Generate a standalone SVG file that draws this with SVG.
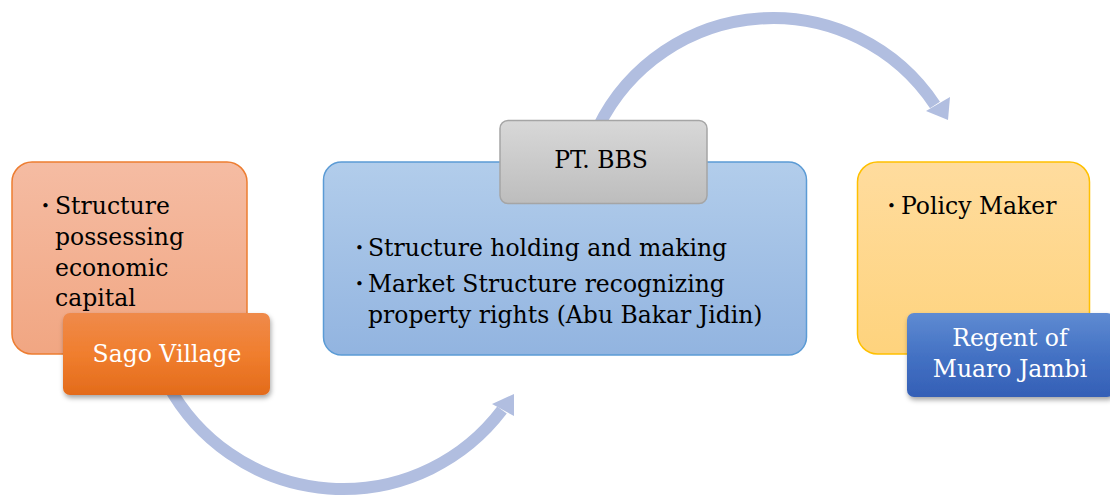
<svg xmlns="http://www.w3.org/2000/svg" width="1110" height="498" viewBox="0 0 1110 498">
<style>
.t{font-family:"DejaVu Serif","Liberation Serif",serif;font-size:23.5px;fill:#000}
.w{fill:#fff}
.b{font-family:"DejaVu Serif","Liberation Serif",serif;font-size:15px;fill:#000}
.arc{fill:none;stroke:#B1BEE0;stroke-width:12}
.head{fill:#B1BEE0}
</style>
<defs>
<linearGradient id="gOr" x1="0" y1="0" x2="0" y2="1"><stop offset="0" stop-color="#F5BCA3"/><stop offset="1" stop-color="#F1A682"/></linearGradient>
<linearGradient id="gOr2" x1="0" y1="0" x2="0" y2="1"><stop offset="0" stop-color="#EF8A4B"/><stop offset="0.5" stop-color="#F07E2E"/><stop offset="1" stop-color="#E36B1B"/></linearGradient>
<linearGradient id="gBl" x1="0" y1="0" x2="0" y2="1"><stop offset="0" stop-color="#B2CDEB"/><stop offset="1" stop-color="#92B4E0"/></linearGradient>
<linearGradient id="gGr" x1="0" y1="0" x2="0" y2="1"><stop offset="0" stop-color="#D8D8D8"/><stop offset="1" stop-color="#BDBDBD"/></linearGradient>
<linearGradient id="gYe" x1="0" y1="0" x2="0" y2="1"><stop offset="0" stop-color="#FFDC9E"/><stop offset="1" stop-color="#FED37D"/></linearGradient>
<linearGradient id="gBl2" x1="0" y1="0" x2="0" y2="1"><stop offset="0" stop-color="#5F8BD2"/><stop offset="0.5" stop-color="#4472C4"/><stop offset="1" stop-color="#345FB6"/></linearGradient>
<filter id="sh" x="-10%" y="-10%" width="125%" height="135%"><feDropShadow dx="1" dy="3" stdDeviation="2.5" flood-color="#000" flood-opacity="0.35"/></filter>
</defs>

<g id="connectors">
<path class="arc" d="M 168 385 A 199.4 199.4 0 0 0 502 410"/>
<polygon class="head" points="514,394 492,404 514,416"/>
<path class="arc" d="M 598 127.6 A 194.5 194.5 0 0 1 935 105"/>
<polygon class="head" points="948,120 926,111 950,97"/>
</g>

<g id="node-left">
<rect x="12" y="162" width="235" height="192" rx="20" fill="url(#gOr)" stroke="#ED7D31" stroke-width="1.5"/>
<text class="b" x="41" y="211">•</text>
<text class="t" x="55" y="214">Structure</text>
<text class="t" x="55" y="245">possessing</text>
<text class="t" x="55" y="276">economic</text>
<text class="t" x="55" y="306">capital</text>
</g>
<g id="node-sago">
<rect x="63" y="313" width="207" height="82" rx="7" fill="url(#gOr2)" filter="url(#sh)"/>
<text class="t w" x="167" y="362" text-anchor="middle">Sago Village</text>
</g>

<g id="node-middle">
<rect x="323.5" y="162" width="483" height="193" rx="18" fill="url(#gBl)" stroke="#5B9BD5" stroke-width="1.5"/>
<text class="b" x="355" y="253">•</text>
<text class="t" x="368" y="256">Structure holding and making</text>
<text class="b" x="355" y="289">•</text>
<text class="t" x="368" y="292">Market Structure recognizing</text>
<text class="t" x="368" y="323">property rights (Abu Bakar Jidin)</text>
</g>
<g id="node-ptbbs">
<rect x="500" y="120.5" width="207" height="83" rx="8" fill="url(#gGr)" stroke="#A5A5A5" stroke-width="1.5"/>
<text class="t" x="601" y="168" text-anchor="middle">PT. BBS</text>
</g>

<g id="node-right">
<rect x="857.5" y="162" width="232" height="192" rx="20" fill="url(#gYe)" stroke="#FFC000" stroke-width="1.5"/>
<text class="b" x="887" y="211">•</text>
<text class="t" x="901" y="214">Policy Maker</text>
</g>
<g id="node-regent">
<rect x="907" y="313" width="207" height="84" rx="7" fill="url(#gBl2)" filter="url(#sh)"/>
<text class="t w" x="1010" y="346" text-anchor="middle">Regent of</text>
<text class="t w" x="1010" y="377" text-anchor="middle">Muaro Jambi</text>
</g>
</svg>
